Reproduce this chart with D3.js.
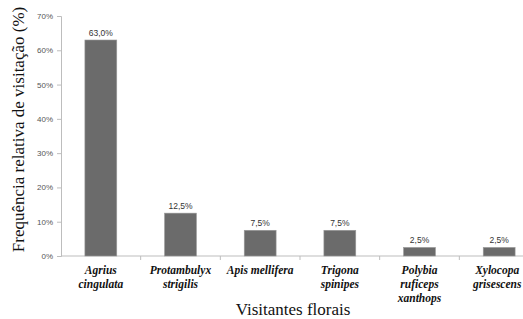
<!DOCTYPE html>
<html>
<head>
<meta charset="utf-8">
<script src="https://cdn.jsdelivr.net/npm/d3@7"></script>
<style>
  body { margin: 0; background: #fff; }
  svg { display: block; }
</style>
</head>
<body>
<div id="chart"></div>
<script>
// visitantes florais - frequencia relativa
const categories = [
    ['Agrius', 'cingulata'],
    ['Protambulyx', 'strigilis'],
    ['Apis mellifera'],
    ['Trigona', 'spinipes'],
    ['Polybia', 'ruficeps', 'xanthops'],
    ['Xylocopa', 'grisescens']
];
const values = [63.0, 12.5, 7.5, 7.5, 2.5, 2.5];
const yTicks = [0, 10, 20, 30, 40, 50, 60, 70];

const width = 523, height = 319;
const margin = { top: 16, left: 61, bottom: 63 };
const plotRight = 539; // plot runs past the right edge of the picture

const serif = '"Liberation Serif", "Times New Roman", serif';
const sans = '"Liberation Sans", Arial, sans-serif';

const svg = d3.select('#chart').append('svg')
    .attr('width', width)
    .attr('height', height);

const x = d3.scaleBand()
    .domain(d3.range(categories.length))
    .range([margin.left, plotRight])
    .paddingInner(0.6)
    .paddingOuter(0.3);

const y = d3.scaleLinear()
    .domain([0, 70])
    .range([height - margin.bottom, margin.top]);

const axisColor = '#bdbdbd';

// y axis
const yAxis = svg.append('g')
    .attr('transform', `translate(${margin.left},0)`)
    .call(d3.axisLeft(y).tickValues(yTicks).tickSize(4).tickPadding(4)
        .tickFormat(d => d + '%'));
yAxis.select('.domain').attr('stroke', axisColor);
yAxis.selectAll('.tick line').attr('stroke', axisColor);
yAxis.selectAll('.tick text')
    .attr('fill', '#555')
    .style('font-family', sans)
    .style('font-size', '8px');

// x axis with ticks between categories
const xAxisG = svg.append('g')
    .attr('transform', `translate(0,${y(0)})`);
xAxisG.append('line')
    .attr('x1', margin.left).attr('x2', plotRight)
    .attr('stroke', axisColor);
const sepX = i => margin.left + i * (plotRight - margin.left) / categories.length;
xAxisG.selectAll('line.sep')
    .data(d3.range(1, categories.length + 1))
    .enter().append('line')
    .attr('class', 'sep')
    .attr('x1', sepX)
    .attr('x2', sepX)
    .attr('y1', 0).attr('y2', 4)
    .attr('stroke', axisColor);

// bars
svg.append('g')
    .selectAll('rect')
    .data(values)
    .enter().append('rect')
    .attr('x', (d, i) => x(i))
    .attr('y', d => y(d))
    .attr('width', x.bandwidth())
    .attr('height', d => y(0) - y(d))
    .attr('fill', '#6b6b6b')
    .attr('stroke', '#9a9a9a')
    .attr('stroke-width', 0.6);

// value labels
svg.append('g')
    .selectAll('text')
    .data(values)
    .enter().append('text')
    .attr('x', (d, i) => x(i) + x.bandwidth() / 2)
    .attr('y', d => y(d) - 4)
    .attr('text-anchor', 'middle')
    .attr('fill', '#333')
    .style('font-family', sans)
    .style('font-size', '8.5px')
    .text(d => d.toFixed(1).replace('.', ',') + '%');

// category labels
const catLabels = svg.append('g')
    .selectAll('text')
    .data(categories)
    .enter().append('text')
    .attr('x', (d, i) => x(i) + x.bandwidth() / 2 - (i === categories.length - 1 ? 2 : 0))
    .attr('y', y(0) + 18)
    .attr('text-anchor', 'middle')
    .attr('fill', '#111')
    .style('font-family', serif)
    .style('font-weight', 'bold')
    .style('font-style', 'italic')
    .style('font-size', '11.5px');
catLabels.selectAll('tspan')
    .data(d => d)
    .enter().append('tspan')
    .attr('x', function () { return d3.select(this.parentNode).attr('x'); })
    .attr('dy', (d, i) => i === 0 ? 0 : 14)
    .text(d => d);

// axis titles
svg.append('text')
    .attr('transform', `translate(24,${(16 + 243) / 2}) rotate(-90)`)
    .attr('text-anchor', 'middle')
    .attr('fill', '#111')
    .style('font-family', serif)
    .style('font-size', '17px')
    .text('Frequência relativa de visitação (%)');

svg.append('text')
    .attr('x', 293)
    .attr('y', 315)
    .attr('text-anchor', 'middle')
    .attr('fill', '#111')
    .style('font-family', serif)
    .style('font-size', '17px')
    .text('Visitantes florais');
</script>
</body>
</html>
